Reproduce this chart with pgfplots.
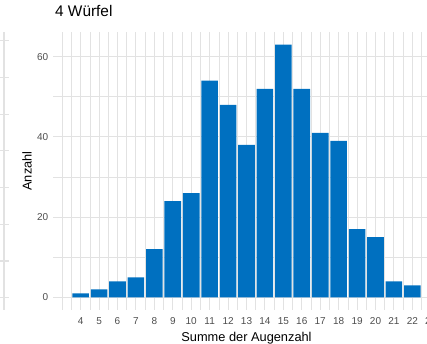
\documentclass[border=0pt]{standalone}
\usepackage{pgfplots}
\pgfplotsset{compat=1.18}
\usepackage{fontspec}
\setmainfont{Liberation Sans}
\definecolor{barblue}{RGB}{0,112,192}
\definecolor{gridgray}{RGB}{226,226,226}
\definecolor{tickgray}{RGB}{77,77,77}
\pgfplotstableread{
x y
4 1
5 2
6 4
7 5
8 12
9 24
10 26
11 54
12 48
13 38
14 52
15 63
16 52
17 41
18 39
19 17
20 15
21 4
22 3
}\wuerfel
\begin{document}
\begin{tikzpicture}[x=1pt,y=1pt]
% fragment of neighbouring panel
\begin{axis}[
  at={(-50pt,33pt)}, anchor=south west,
  scale only axis, width=59.3pt, height=278pt,
  xmin=-50, xmax=9.3, ymin=33, ymax=311,
  axis line style={draw=none},
  xtick={4}, ytick={302.3,265.6,228.9,192.1,155.4,118.7,82,45.3},
  xticklabels={}, yticklabels={},
  grid=major, major tick length=0pt,
  major grid style={gridgray, line width=1.1pt},
]
\addplot[draw=none] coordinates {(0,100)};
\end{axis}
% main panel
\begin{axis}[
  at={(53pt,33pt)}, anchor=south west,
  scale only axis, width=387pt, height=278pt,
  xmin=2.5, xmax=23.5, ymin=-3.15, ymax=66.15,
  axis line style={draw=none},
  xtick={4,...,23},
  extra x ticks={3}, extra x tick labels={},
  extra x tick style={grid=major},
  minor xtick={3.5,4.5,...,22.5},
  ytick={0,20,40,60},
  minor ytick={10,30,50},
  grid=both,
  major tick length=0pt, minor tick length=0pt,
  major grid style={gridgray, line width=1.1pt},
  minor grid style={gridgray, line width=0.6pt},
  /pgf/number format/assume math mode=true,
  tick label style={font=\fontsize{10}{12}\selectfont, text=tickgray, inner sep=0pt},
  xticklabel style={anchor=base, yshift=-14.3pt},
  yticklabel style={anchor=east, xshift=-4.5pt},
  title={4 Würfel},
  title style={font=\fontsize{15.4}{18}\selectfont, anchor=base west, inner sep=0pt,
    at={(rel axis cs:0.005,1)}, yshift=9.3pt},
  xlabel={Summe der Augenzahl},
  xlabel style={font=\fontsize{12.8}{15}\selectfont, anchor=base, inner sep=0pt,
    at={(rel axis cs:0.5,0)}, yshift=-31.5pt},
  ylabel={Anzahl},
  ylabel style={font=\fontsize{12.8}{15}\selectfont, anchor=base, inner sep=0pt,
    at={(rel axis cs:0,0.5)}, yshift=21.3pt},
]
\addplot[ybar, bar width=0.9, bar shift=0pt, fill=barblue, draw=none] table[x=x,y=y] {\wuerfel};
\end{axis}
\pgfresetboundingbox
\path[use as bounding box] (0,0) rectangle (427pt,343pt);
\end{tikzpicture}
\end{document}
